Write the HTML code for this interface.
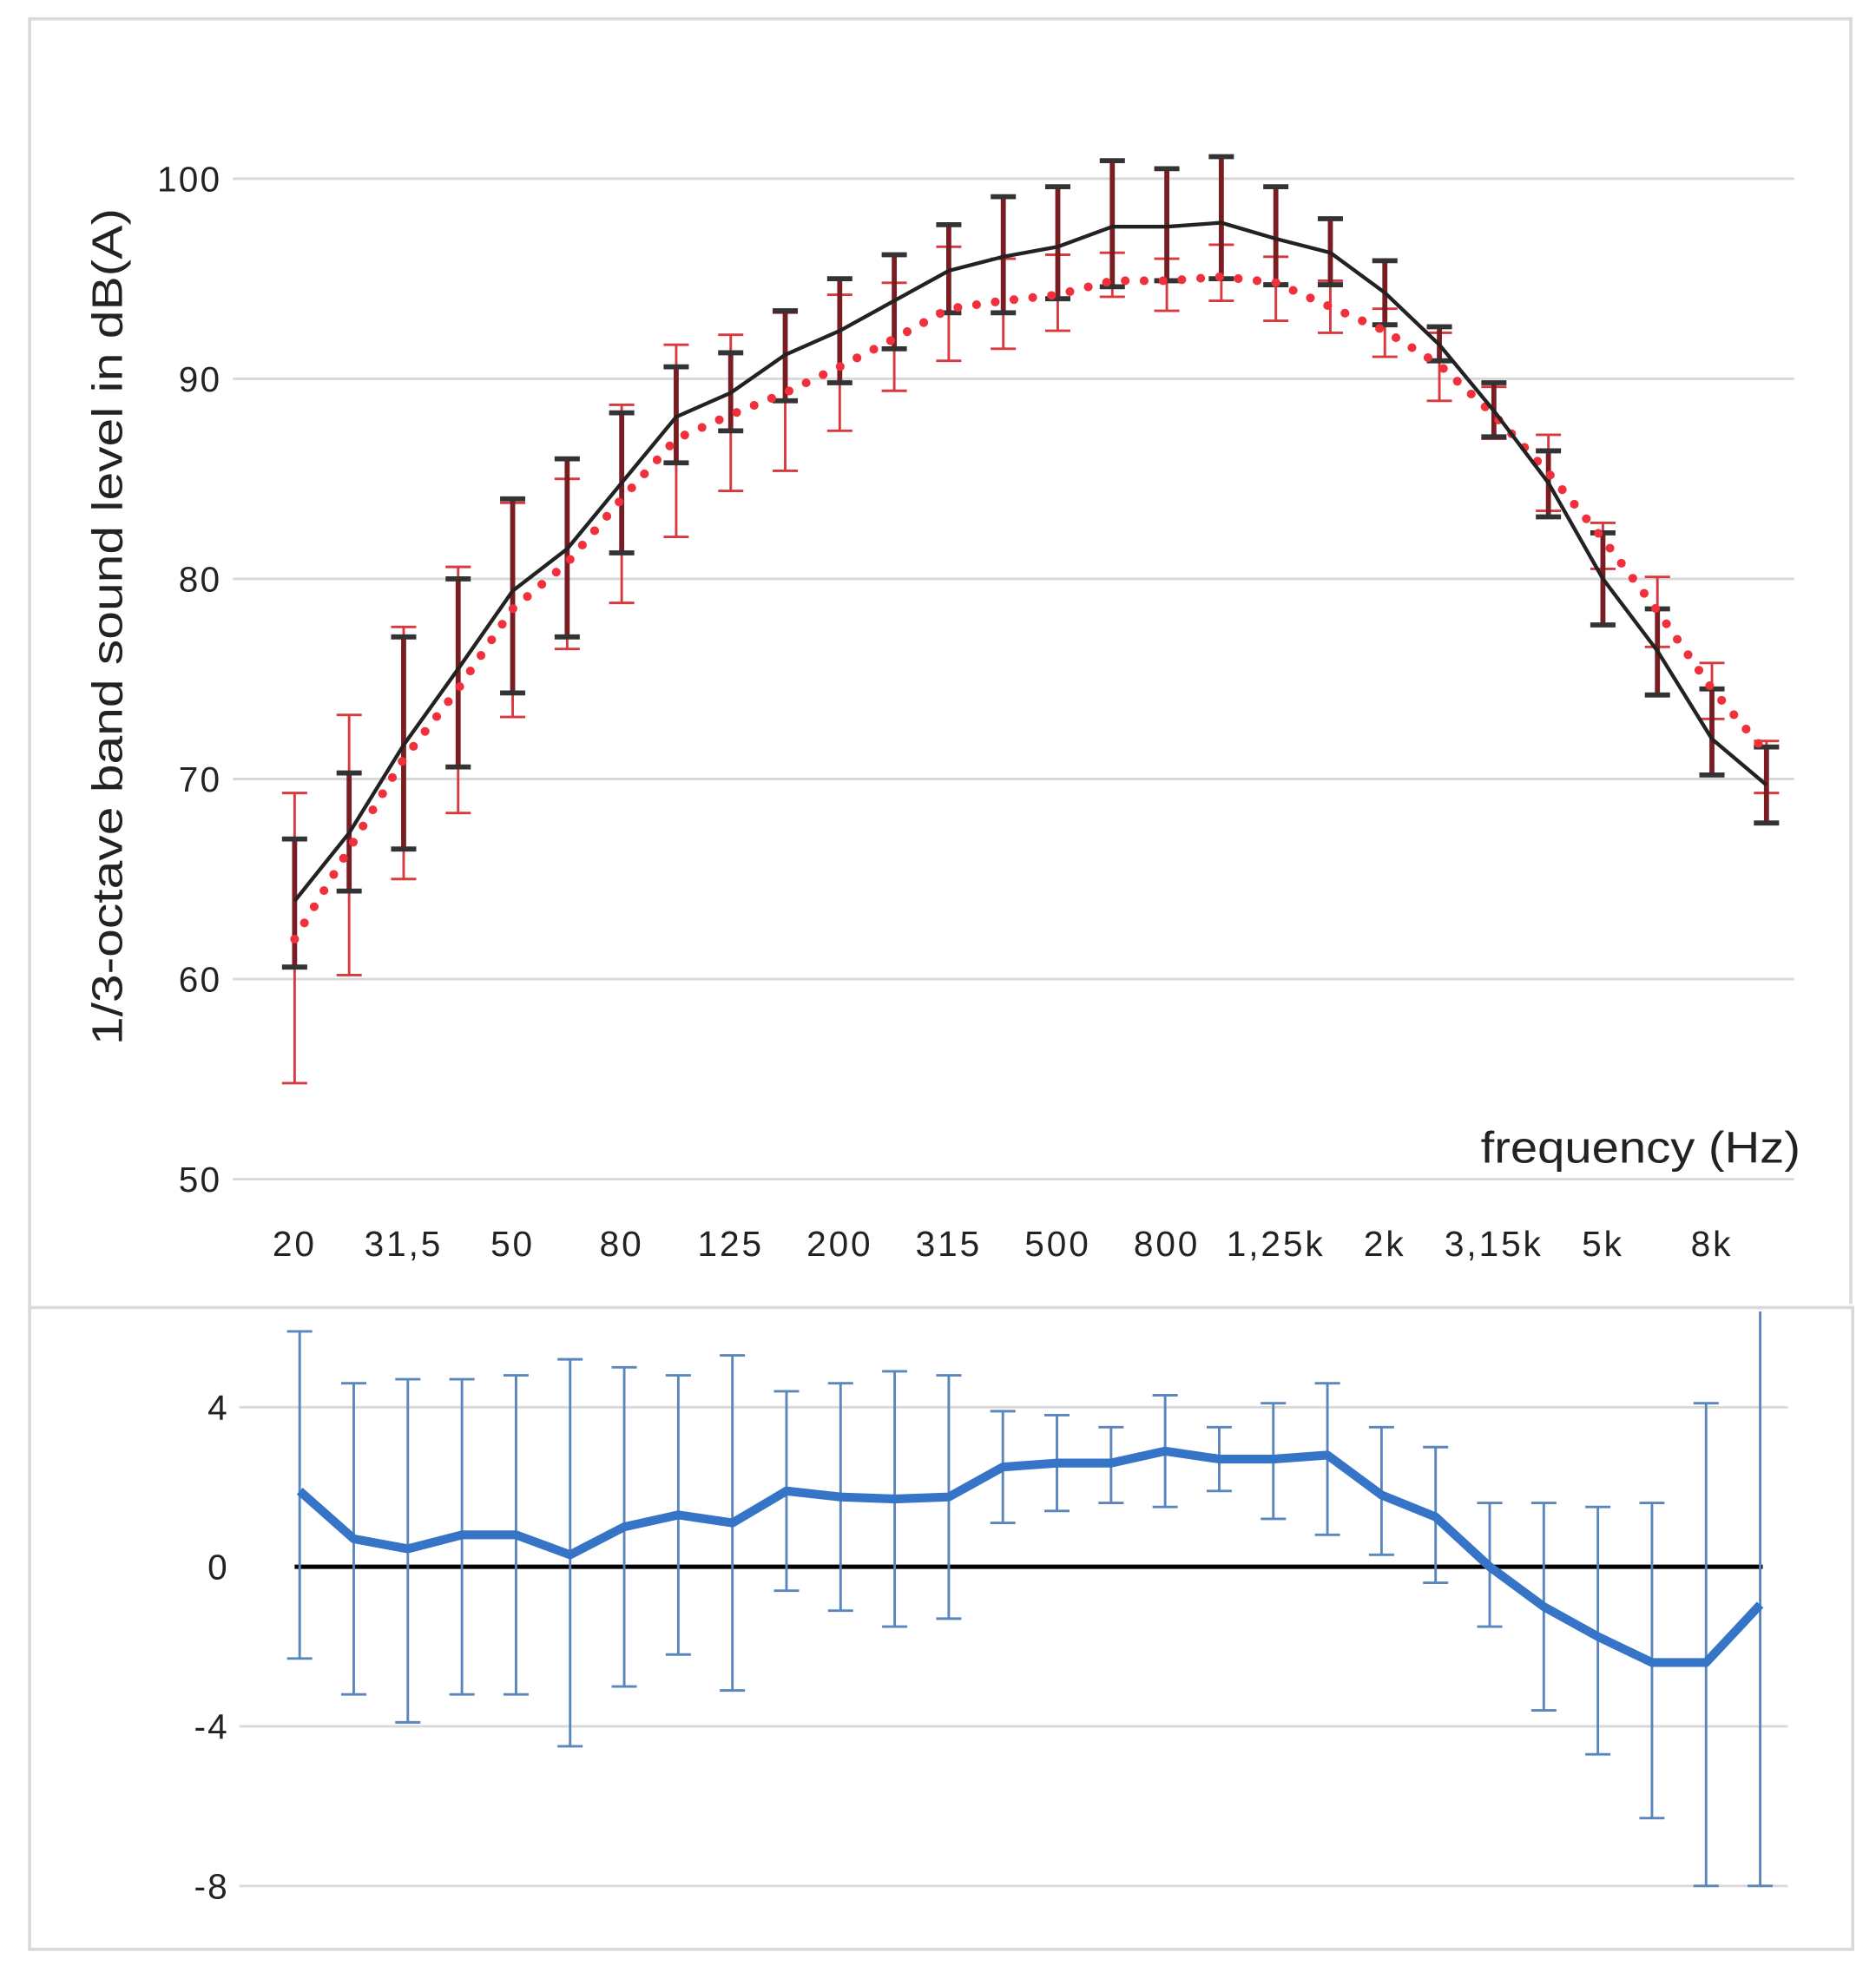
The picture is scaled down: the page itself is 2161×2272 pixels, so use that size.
<!DOCTYPE html>
<html><head><meta charset="utf-8"><style>
html,body{margin:0;padding:0;background:#fff;}
svg{display:block;}
text{font-family:"Liberation Sans",sans-serif;fill:#222;}
</style></head><body>
<svg id="chart" width="2161" height="2272" viewBox="0 0 1490 1567" preserveAspectRatio="none" xmlns="http://www.w3.org/2000/svg">
<rect x="0" y="0" width="1490" height="1567" fill="#fff"/>
<g id="frames" fill="none" stroke="#d9d9d9" stroke-width="2.5">
<polyline points="23.5,1039 23.5,15 1470,15 1470,1036" />
<rect x="23.5" y="1039" width="1448" height="510"/>
</g>
<g id="top"></g>
<g id="bottom"></g>
<text x="0" y="0" font-size="34" text-anchor="middle" textLength="665" lengthAdjust="spacingAndGlyphs" transform="translate(97,498) rotate(-90)">1/3-octave band sound level in dB(A)</text>
<text x="1176" y="924" font-size="35" textLength="254" lengthAdjust="spacingAndGlyphs">frequency (Hz)</text>
</svg>
<script>
const categories=["20","25","31,5","40","50","63","80","100","125","160","200","250","315","400","500","630","800","1k","1,25k","1,6k","2k","2,5k","3,15k","4k","5k","6,3k","8k","10k"];
const meanA=[63.9,67.3,71.7,75.5,79.4,81.5,84.8,88.1,89.3,91.2,92.4,93.9,95.4,96.1,96.6,97.6,97.6,97.8,97.0,96.3,94.3,91.7,88.4,84.8,80.0,76.4,72.0,69.7];
const hiA=[67.0,70.3,77.1,80.0,84.0,86.0,88.3,90.6,91.3,93.4,95.0,96.2,97.7,99.1,99.6,100.9,100.5,101.1,99.6,98.0,95.9,92.6,89.8,86.4,82.3,78.5,74.5,71.6];
const loA=[60.6,64.4,66.5,70.6,74.3,77.1,81.3,85.8,87.4,88.9,89.8,91.5,93.3,93.3,94.0,94.6,94.9,95.0,94.7,94.7,92.7,90.9,87.1,83.1,77.7,74.2,70.2,67.8];
const meanB=[62.0,66.5,71.0,74.5,78.5,80.8,84.0,87.0,88.2,89.3,90.6,92.0,93.5,93.9,94.2,94.9,94.9,95.1,94.8,93.6,92.4,90.7,88.2,85.3,82.0,78.4,74.5,71.3];
const hiB=[69.3,73.2,77.6,80.6,83.8,85.0,88.7,91.7,92.2,93.3,94.2,94.8,96.6,96.0,96.2,96.3,96.0,96.7,96.1,94.9,93.5,92.3,89.6,87.2,82.8,80.1,75.8,71.9];
const loB=[54.8,60.2,65.0,68.3,73.1,76.5,78.8,82.1,84.4,85.4,87.4,89.4,90.9,91.5,92.4,94.1,93.4,93.9,92.9,92.3,91.1,88.9,87.0,83.4,80.5,76.6,73.0,69.3];
const diff=[1.9,0.7,0.45,0.8,0.8,0.3,1.0,1.3,1.1,1.9,1.75,1.7,1.75,2.5,2.6,2.6,2.9,2.7,2.7,2.8,1.8,1.25,0.0,-1.0,-1.75,-2.4,-2.4,-0.95];
const diffHi=[5.9,4.6,4.7,4.7,4.8,5.2,5.0,4.8,5.3,4.4,4.6,4.9,4.8,3.9,3.8,3.5,4.3,3.5,4.1,4.6,3.5,3.0,1.6,1.6,1.5,1.6,4.1,6.4];
const diffLo=[-2.3,-3.2,-3.9,-3.2,-3.2,-4.5,-3.0,-2.2,-3.1,-0.6,-1.1,-1.5,-1.3,1.1,1.4,1.6,1.5,1.9,1.2,0.8,0.3,-0.4,-1.5,-3.6,-4.7,-6.3,-8.0,-8.0];
const topTicks=[50,60,70,80,90,100];
const bottomTicks=[-8,-4,0,4];

const NS="http://www.w3.org/2000/svg";
function mk(parent,tag,attrs){const e=document.createElementNS(NS,tag);for(const k in attrs)e.setAttribute(k,attrs[k]);parent.appendChild(e);return e;}
const n=categories.length;
const xTop=i=>234+(1403-234)*i/(n-1);
const yTop=v=>142+(100-v)*15.9;
const xBot=i=>238+(1398-238)*i/(n-1);
const yBot=v=>1245-v*31.7;
const gT=document.getElementById('top'), gB=document.getElementById('bottom');

topTicks.forEach(t=>{
 const l=mk(gT,'line',{x1:185,x2:1425,y1:yTop(t),y2:yTop(t),stroke:'#d9d9d9','stroke-width':2});
 
 
 const tx=mk(gT,'text',{x:176,y:yTop(t)+10,'font-size':28,'letter-spacing':1.5,'text-anchor':'end'});tx.textContent=t;
 
 
});
categories.forEach((c,i)=>{
 if(i%2)return;
 const tx=mk(gT,'text',{x:xTop(i),y:998,'font-size':28,'letter-spacing':2,'text-anchor':'middle'});tx.textContent=c;
 
 
});
categories.forEach((c,i)=>{
 const x=xTop(i),g=mk(gT,'g',{stroke:'#d8393e','stroke-width':2});
 
 
 mk(g,'line',{x1:x,x2:x,y1:yTop(hiB[i]),y2:yTop(loB[i])});
 mk(g,'line',{x1:x-10,x2:x+10,y1:yTop(hiB[i]),y2:yTop(hiB[i])});
 mk(g,'line',{x1:x-10,x2:x+10,y1:yTop(loB[i]),y2:yTop(loB[i])});
});
categories.forEach((c,i)=>{
 const x=xTop(i),g=mk(gT,'g',{});
 
 
 mk(g,'line',{x1:x,x2:x,y1:yTop(hiA[i]),y2:yTop(loA[i]),stroke:'#7a1d22','stroke-width':4});
 mk(g,'line',{x1:x-10,x2:x+10,y1:yTop(hiA[i]),y2:yTop(hiA[i]),stroke:'#333','stroke-width':4});
 mk(g,'line',{x1:x-10,x2:x+10,y1:yTop(loA[i]),y2:yTop(loA[i]),stroke:'#333','stroke-width':4});
});
const red=mk(gT,'polyline',{points:meanB.map((v,i)=>xTop(i)+','+yTop(v)).join(' '),fill:'none',stroke:'#f0303a','stroke-width':7,'stroke-linecap':'round','stroke-dasharray':'0 15'});


const blk=mk(gT,'polyline',{points:meanA.map((v,i)=>xTop(i)+','+yTop(v)).join(' '),fill:'none',stroke:'#222','stroke-width':3});



bottomTicks.forEach(t=>{
 if(t!==0){const l=mk(gB,'line',{x1:190,x2:1420,y1:yBot(t),y2:yBot(t),stroke:'#d9d9d9','stroke-width':2});
 
 }
 const tx=mk(gB,'text',{x:182,y:yBot(t)+10,'font-size':28,'letter-spacing':1.5,'text-anchor':'end'});tx.textContent=t;
 
 
});
const z=mk(gB,'line',{x1:xBot(0)-4,x2:xBot(n-1)+2,y1:yBot(0),y2:yBot(0),stroke:'#000','stroke-width':3.5});


categories.forEach((c,i)=>{
 const x=xBot(i),g=mk(gB,'g',{stroke:'#5b85bd','stroke-width':2});
 
 
 const raw=yBot(diffHi[i]);
 const top=Math.max(raw,1041);
 mk(g,'line',{x1:x,x2:x,y1:top,y2:yBot(diffLo[i])});
 if(raw>1046)mk(g,'line',{x1:x-10,x2:x+10,y1:top,y2:top});
 mk(g,'line',{x1:x-10,x2:x+10,y1:yBot(diffLo[i]),y2:yBot(diffLo[i])});
});
const bl=mk(gB,'polyline',{points:diff.map((v,i)=>xBot(i)+','+yBot(v)).join(' '),fill:'none',stroke:'#3574c6','stroke-width':7,'stroke-linejoin':'round'});


</script>
</body></html>
